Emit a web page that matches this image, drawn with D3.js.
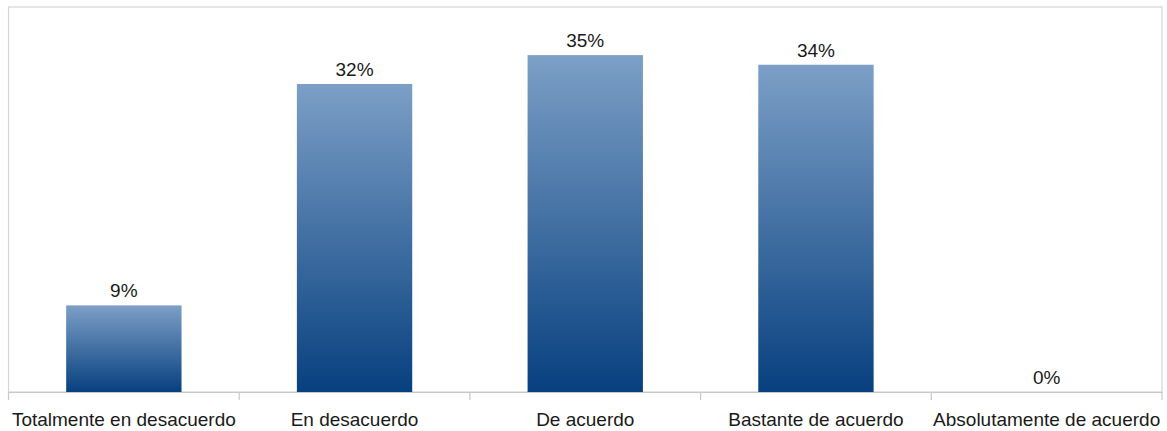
<!DOCTYPE html>
<html>
<head>
<meta charset="utf-8">
<script src="https://cdn.jsdelivr.net/npm/d3@7"></script>
<style>
  html, body { margin: 0; padding: 0; background: #fff; }
  svg { display: block; }
</style>
</head>
<body>
<svg id="chart" width="1167" height="431"></svg>
<script>
const categories = ["Totalmente en desacuerdo", "En desacuerdo", "De acuerdo", "Bastante de acuerdo", "Absolutamente de acuerdo"];
const values = [9, 32, 35, 34, 0];
const valueLabels = ["9%", "32%", "35%", "34%", "0%"];

const W = 1167, H = 431;
const margin = { left: 8.5, right: 5, top: 7, bottom: 39 };
const svg = d3.select("#chart");

const x = d3.scaleBand().domain(categories).range([margin.left, W - margin.right]).paddingInner(0.5).paddingOuter(0.25);
const xOuter = d3.scaleBand().domain(categories).range([margin.left, W - margin.right]);
const y = d3.scaleLinear().domain([0, 40]).range([H - margin.bottom, margin.top]);

const defs = svg.append("defs");
const grad = defs.append("linearGradient").attr("id", "barGrad")
  .attr("x1", 0).attr("y1", 0).attr("x2", 0).attr("y2", 1);
grad.append("stop").attr("offset", "0%").attr("stop-color", "#7c9fc6");
grad.append("stop").attr("offset", "100%").attr("stop-color", "#07407f");

// frame
svg.append("rect")
  .attr("x", margin.left).attr("y", margin.top)
  .attr("width", W - margin.right - margin.left)
  .attr("height", y(0) - margin.top)
  .attr("fill", "none").attr("stroke", "#d4d4d4").attr("stroke-width", 1.2);

// bars
svg.selectAll("rect.bar").data(values).join("rect")
  .attr("class", "bar")
  .attr("x", (d, i) => x(categories[i]))
  .attr("width", x.bandwidth())
  .attr("y", d => y(d))
  .attr("height", d => y(0) - y(d))
  .attr("fill", "url(#barGrad)");

// axis
const axis = d3.axisBottom(xOuter).tickSize(0).tickFormat("");
const gx = svg.append("g").attr("transform", `translate(0,${y(0)})`).call(axis);
gx.select(".domain").attr("stroke", "#c8c8c8").attr("stroke-width", 1.2);
// boundary ticks
const bounds = categories.map(c => xOuter(c)).concat([W - margin.right]);
gx.selectAll("line.bt").data(bounds).join("line")
  .attr("class", "bt")
  .attr("x1", d => d).attr("x2", d => d)
  .attr("y1", 0).attr("y2", 8)
  .attr("stroke", "#c8c8c8").attr("stroke-width", 1.2);

// category labels
svg.selectAll("text.cat").data(categories).join("text")
  .attr("class", "cat")
  .attr("x", d => xOuter(d) + xOuter.bandwidth() / 2)
  .attr("y", 426)
  .attr("text-anchor", "middle")
  .attr("font-family", "Liberation Sans, Arial, sans-serif")
  .attr("font-size", 19)
  .attr("fill", "#1a1a1a")
  .text(d => d);

// value labels
svg.selectAll("text.val").data(values).join("text")
  .attr("class", "val")
  .attr("x", (d, i) => x(categories[i]) + x.bandwidth() / 2)
  .attr("y", d => y(d) - 8)
  .attr("text-anchor", "middle")
  .attr("font-family", "Liberation Sans, Arial, sans-serif")
  .attr("font-size", 19)
  .attr("fill", "#1a1a1a")
  .text((d, i) => valueLabels[i]);
</script>
</body>
</html>
